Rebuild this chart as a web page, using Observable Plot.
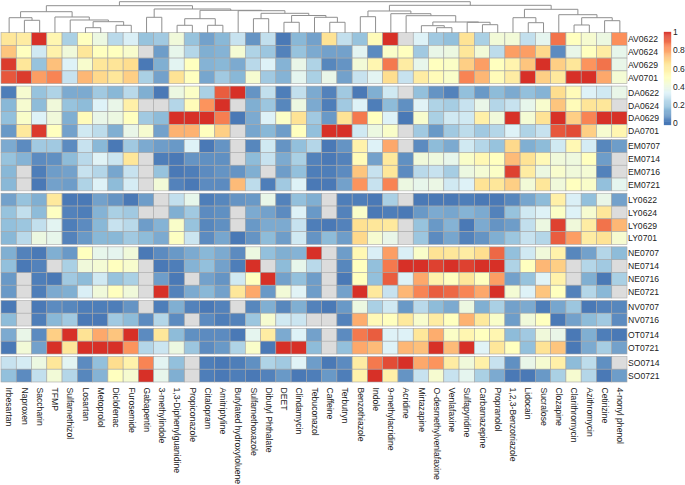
<!DOCTYPE html>
<html>
<head>
<meta charset="utf-8">
<script src="https://cdn.jsdelivr.net/npm/d3@7"></script>
<script src="https://cdn.jsdelivr.net/npm/@observablehq/plot@0.6"></script>
<style>
html,body{margin:0;padding:0;background:#fff;}
#chart{position:relative;width:685px;height:485px;overflow:hidden;}
#chart svg{display:block;}
#legend{position:absolute;left:640px;top:0;}
</style>
</head>
<body>
<div id="chart"><div id="main"></div><div id="legend"></div></div>
<script>
const compounds = ["Irbesartan","Naproxen","Saccharin","TFMP","Sulfamethizol","Losartan","Metoprolol","Diclofenac","Furosemide","Gabapentin","3-methylindole","1,3-Diphenylguanidine","Propiconazole","Citalopram","Amitriptyline","Butylated hydroxytoluene","Sulfamethoxazole","Dibutyl Phthalate","DEET","Clindamycin","Tebuconazol","Caffeine","Terbutryn","Benzothiazole","Indole","9-methylacridine","Acridine","Mirtazapine","O-desmethylvenlafaxine","Venlafaxine","Sulfapyridine","Carbamazepine","Propranolol","1,2,3-Benzotriazole","Lidocain","Sucralose","Clozapine","Clarithromycin","Azithromycin","Cetirizine","4-nonyl phenol"];
const _ = null;
const AV0622 = [.63,.6,1,.55,.22,.5,.4,.25,.32,.18,.2,.42,.18,.1,.15,.28,.07,.27,.01,.15,.1,.65,.27,.18,.52,1,_,.33,.2,.17,.65,.22,.43,.43,.27,.36,.88,.5,.45,.4,.83];
const AV0624 = [.72,.5,.3,.57,.42,.63,.5,.5,.46,_,.09,.37,.24,.13,.14,.44,.23,.19,.03,.18,.12,.1,.1,.35,.05,.47,.5,.2,.38,.4,.63,.43,.26,.8,.8,.68,.05,.38,.5,.6,.37];
const AV0629 = [.98,.63,.18,.73,.33,.46,.63,.64,.67,.01,.13,.35,.5,.14,.15,.12,.25,.33,.14,.38,.23,.04,.07,.43,.55,.87,.6,.37,.5,.48,.7,.8,.5,.56,.72,1,.7,.63,.82,.88,.38];
const AV0701 = [.93,.98,.8,.85,.28,.75,.68,.63,.7,.22,.1,.65,.5,.11,.2,.15,.45,.2,.14,.36,.22,.38,.1,.28,.35,.67,.28,.6,.52,.47,.85,.75,.52,.6,1,.7,.62,1,1,.78,.44];
const DA0622 = [.02,.45,.18,.23,.12,.12,.2,.15,.25,.13,.01,.4,.48,.22,.92,1,.07,.27,.02,.27,.12,.03,.2,.01,.13,.3,_,.17,.07,.03,.17,.08,.16,.12,.17,.14,.67,.52,.33,.3,.38];
const DA0624 = [.15,.45,.16,.42,.18,.16,.33,.38,.58,_,_,.24,.52,.82,1,_,.13,.19,.04,.4,.12,.02,.2,.33,.02,.16,.06,.34,.23,.21,.28,.38,.24,.28,.37,.46,.72,.52,.64,.63,_];
const DA0629 = [.17,.47,.33,.42,.13,.52,.38,.4,.5,.2,.16,1,1,1,.86,.01,.12,.33,.48,.65,.2,.08,.65,.87,.5,.33,.01,.46,.22,.3,.3,.58,.42,1,.44,.65,1,.7,.85,1,1];
const DA0701 = [.08,.62,.98,.5,.1,.3,.26,.13,.38,.45,.1,.76,.76,.5,.7,_,.11,.15,.09,.5,.17,1,1,.3,.4,.47,_,.2,.08,.2,.26,.2,.24,.33,.23,.28,.93,.95,.7,.45,.55];
const EM0707 = [.12,.05,.2,.2,.05,.28,.15,.01,.2,.12,.09,.08,.33,.01,.07,_,.04,.3,.07,.17,.24,.01,.07,.57,.33,.78,_,.05,.16,.12,.3,.24,.18,.68,.13,.16,.3,.54,.31,.04,.09];
const EM0714 = [.18,.14,.05,.06,.16,.25,.34,.29,.63,_,.02,.01,.07,.06,.06,_,.16,.28,.12,.22,.03,.01,.03,.52,.1,.62,.06,.42,.41,.37,.47,.54,.5,.74,.65,.53,.42,.41,.5,.09,_];
const EM0716 = [.15,_,.02,.09,.1,.28,.24,.11,.28,_,.18,.01,.02,.05,.07,.07,.13,_,.09,.17,.02,.02,.05,.72,.28,.63,.05,.25,.28,.21,.4,.44,.48,.97,.6,.4,.46,.42,.44,.03,_];
const EM0721 = [.15,_,.01,.1,.09,.23,.33,.16,.31,_,.43,.03,.01,.05,.05,.74,.26,.02,.2,.33,.01,.01,.1,.82,.28,.85,.4,.37,.39,.3,.33,.65,.63,.7,.43,.63,.42,.5,.47,.17,.36];
const LY0622 = [.1,.18,.13,.62,.01,.01,.1,.07,.01,.09,_,.27,.37,.02,.04,.07,.08,.38,.03,.17,.13,_,.02,.02,.01,.22,_,.01,.01,.01,.02,.01,.01,.04,.11,.16,.58,.32,.17,.38,.1];
const LY0624 = [.18,.27,.16,.49,.03,.02,.14,.22,.2,_,_,.13,.2,.05,.06,_,.12,.1,.05,.33,.08,_,.03,.47,.01,.02,.01,.08,.12,.11,.14,.12,.03,.18,.3,.33,.48,.33,.45,.63,_];
const LY0629 = [.17,.19,.27,.35,.02,.05,.15,.28,.25,.09,.14,.47,.18,.04,.06,_,.08,.12,.12,.28,.02,.01,.03,.66,.63,.62,_,.18,.08,.14,.01,.12,.07,.09,.27,.4,.97,.42,.6,.88,.75];
const LY0701 = [.15,.25,.4,.37,.03,.08,.15,.15,.2,.16,.12,.49,.29,.05,.11,.01,.07,.16,.09,.3,.07,.16,.09,.68,.45,.38,_,.19,.05,.11,.03,.07,.13,.19,.28,.24,.92,.8,.6,.65,.45];
const NE0707 = [.13,.03,.01,.13,.08,.5,.37,.36,.42,.01,.05,.08,.12,.15,.12,.05,.4,.17,.13,.14,1,_,.09,.54,.32,.8,.32,.47,.65,.63,.6,.67,.9,.17,.3,.42,.57,.04,.1,.24,.16];
const NE0714 = [.17,.01,.03,_,.22,.42,.44,.5,.46,_,.01,.02,.14,.17,.1,.02,1,_,.16,.37,.25,_,.04,.5,.17,.87,1,1,.97,1,.97,1,1,.23,.5,.75,.7,_,.24,.2,_];
const NE0716 = [.08,_,.02,.01,.2,.16,.3,.18,.22,_,.09,.01,_,.1,.07,.3,.5,1,.1,.17,.09,_,.01,.5,.17,.92,.33,.78,.57,.5,.63,.5,.8,.1,.18,.34,.57,_,.13,.01,.22];
const NE0721 = [.08,_,.02,.12,.13,.32,.42,.5,.42,_,1,.03,.12,.15,.1,.63,.78,.08,.43,.34,.09,_,.1,1,.62,.28,.75,.85,.92,.9,.85,.78,1,.44,.33,.72,.5,.03,.24,.15,_];
const NV0707 = [.01,_,.01,.05,.04,.02,.02,.02,.07,_,.02,.13,.03,.01,.03,_,.04,.13,.04,.13,.03,.01,.08,.4,.22,.3,.08,.25,.16,.12,.4,.13,.22,.1,.12,.02,.11,.19,.01,.03,.04];
const NV0716 = [.16,_,.02,.15,.2,.01,.01,.2,.16,.05,.24,.05,_,.05,.02,.03,.19,.45,.3,.29,_,_,.03,.77,.53,.5,.62,.46,.6,.5,.76,.62,.47,.09,.42,.5,.01,.1,.16,.2,.05];
const OT0714 = [.12,.38,.05,.7,1,.65,.78,.72,1,.05,.63,.16,.06,.05,.05,.01,.36,.6,.12,.33,.1,_,.05,.87,.92,.33,.33,.63,.77,.48,.55,.5,.55,.16,.2,.42,.38,.01,.13,.02,.01];
const OT0721 = [.01,.43,.1,1,.63,1,1,1,.82,.24,.29,.4,.19,.05,.08,.23,.47,.01,1,1,.16,_,.17,.78,.74,.33,.75,.73,1,.74,1,.34,.63,.5,.17,.65,.72,.01,.12,.21,.1];
const SO0714 = [.28,.31,.4,.63,.35,.05,.17,.67,.57,.85,.35,.17,_,.02,.01,.02,.06,.23,.2,.34,.09,.01,.05,.6,.87,.95,1,.78,.82,.6,.42,.58,.28,.06,.38,.45,.58,.16,.26,.06,_];
const SO0721 = [.17,.05,.27,.43,.24,.04,.14,.5,.45,1,.37,.13,_,.02,.01,.02,.01,.03,.08,.01,.02,.08,.02,.57,1,.58,.07,.28,.45,.28,.36,.22,.12,.01,.01,.08,.22,.45,.24,.01,.09];
const groups = [
  [["AV0622",AV0622],["AV0624",AV0624],["AV0629",AV0629],["AV0701",AV0701]],
  [["DA0622",DA0622],["DA0624",DA0624],["DA0629",DA0629],["DA0701",DA0701]],
  [["EM0707",EM0707],["EM0714",EM0714],["EM0716",EM0716],["EM0721",EM0721]],
  [["LY0622",LY0622],["LY0624",LY0624],["LY0629",LY0629],["LY0701",LY0701]],
  [["NE0707",NE0707],["NE0714",NE0714],["NE0716",NE0716],["NE0721",NE0721]],
  [["NV0707",NV0707],["NV0716",NV0716]],
  [["OT0714",OT0714],["OT0721",OT0721]],
  [["SO0714",SO0714],["SO0721",SO0721]]
];
// dendrogram: [height, left, right]; integers are leaves (column numbers)
const dendrogram = [31.3,
  [27.3,
    [21.3,[15.3,0,[12.7,1,2]],[16,3,[13,4,[11.3,[5.3,5,6],[7.7,7,8]]]]],
    [24,[15.7,9,10],[22.7,[14.3,[7.7,11,12],[7.7,13,14]],[22.3,15,[19.7,[14.3,16,17],[17.5,[10.7,18,19],[15.7,20,[10.7,21,22]]]]]]]
  ],
  [27.7,
    [22,[16.3,23,24],[19.3,25,[17.3,26,[11,[7.3,27,[5.3,28,29]],[10.7,30,[8.3,31,32]]]]]],
    [23.7,[15.3,33,[10.3,34,35]],[18.3,36,[15.3,[8,37,38],[12.3,39,40]]]]
  ]
];
const palette = ["#4575B4","#91BFDB","#E0F3F8","#FFFFBF","#FEE090","#FC8D59","#D73027"];
const legendTicks = [0,0.2,0.4,0.6,0.8,1];

const rowUnit = 12.8, gap = 0.1875;
const colorOpt = {type:"linear",domain:[0,1],interpolate:d3.piecewise(d3.interpolateRgb,palette)};
const cells = [], rowTicks = new Map();
let pos = 0;
groups.forEach(g=>{
  g.forEach(([name,vals])=>{
    rowTicks.set(pos+0.5,name);
    vals.forEach((v,i)=>cells.push({x1:i,x2:i+1,y1:pos,y2:pos+1,v,name,compound:compounds[i]}));
    pos += 1;
  });
  pos += gap;
});
const total = pos-gap;
const segments = [];
function walk(n){
  if(typeof n==="number") return {x:n+0.5,h:0};
  const a=walk(n[1]), b=walk(n[2]), h=n[0];
  segments.push({x1:a.x,x2:a.x,h1:a.h,h2:h},{x1:b.x,x2:b.x,h1:b.h,h2:h},{x1:a.x,x2:b.x,h1:h,h2:h});
  return {x:(a.x+b.x)/2,h};
}
walk(dendrogram);

const font = "'Liberation Sans',Arial,sans-serif";
const main = Plot.plot({
  width:685,height:485,marginLeft:1,marginRight:58,marginTop:0,marginBottom:103,
  style:{fontFamily:font,fontSize:"8.6px",background:"#fff",color:"#222"},
  x:{domain:[0,compounds.length],axis:null},
  y:{domain:[-32.5/rowUnit,total],reverse:true,axis:null},
  color:colorOpt,
  marks:[
    Plot.rect(cells.filter(d=>d.v===null),{x1:"x1",x2:"x2",y1:"y1",y2:"y2",fill:"#DCDCDC",stroke:"#ababab",strokeWidth:0.6,inset:0}),
    Plot.rect(cells.filter(d=>d.v!==null),{x1:"x1",x2:"x2",y1:"y1",y2:"y2",fill:"v",stroke:"#a6a6a6",strokeWidth:0.6,inset:0}),
    Plot.link(segments,{x1:"x1",x2:"x2",y1:d=>-d.h1/rowUnit,y2:d=>-d.h2/rowUnit,stroke:"#8f8f8f",strokeWidth:1}),
    Plot.axisX(compounds.map((c,i)=>i+0.5),{anchor:"bottom",tickSize:0,tickPadding:5,tickRotate:90,tickFormat:t=>compounds[t-0.5],label:null,fill:"#222"}),
    Plot.axisY([...rowTicks.keys()],{anchor:"right",tickSize:0,tickPadding:0.5,tickFormat:t=>rowTicks.get(t),label:null,fill:"#222"})
  ]
});
document.getElementById("main").append(main);

const steps = d3.range(0,100).map(i=>i/100);
const legend = Plot.plot({
  width:45,height:135,marginLeft:24,marginRight:14,marginTop:32,marginBottom:10,
  style:{fontFamily:font,fontSize:"8.5px",background:"transparent",color:"#222"},
  x:{domain:[0,1],axis:null},
  y:{domain:[-0.025,1],axis:null},
  color:colorOpt,
  marks:[
    Plot.rect(steps,{x1:0,x2:1,y1:d=>d===0?-0.025:d,y2:d=>d+0.01,fill:d=>d+0.005,stroke:d=>d+0.005,strokeWidth:0.3}),
    Plot.axisY(legendTicks,{anchor:"right",tickSize:0,tickPadding:1.5,tickFormat:d=>String(d),label:null,fill:"#222"})
  ]
});
document.getElementById("legend").append(legend);
</script>
</body>
</html>
